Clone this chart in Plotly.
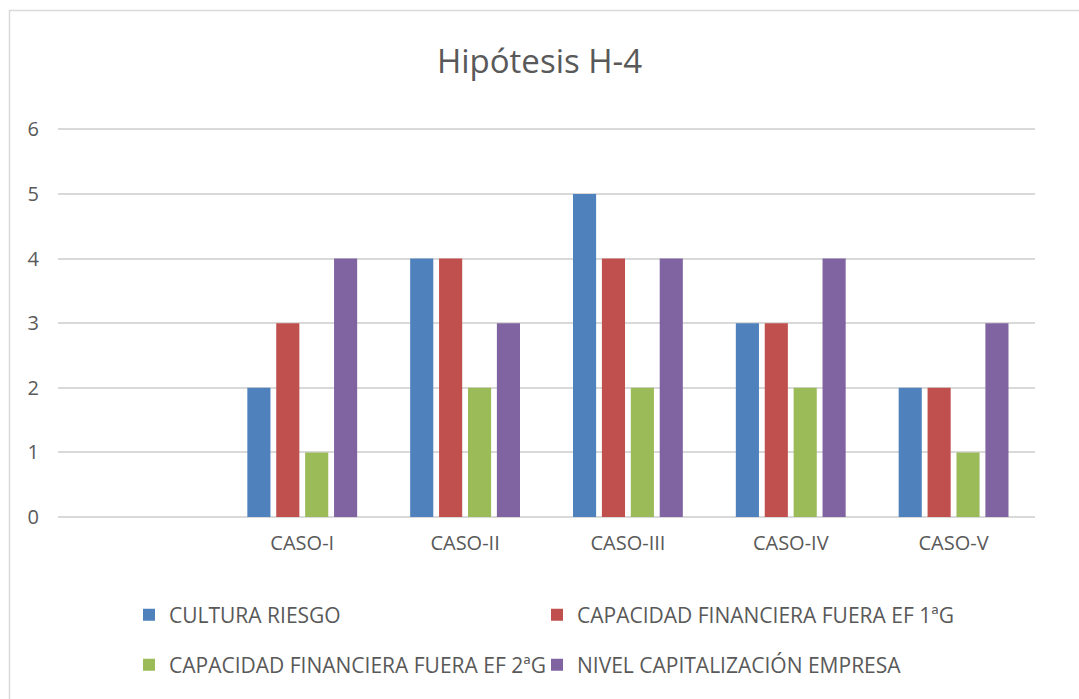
import plotly.graph_objects as go

# Categories (first slot is intentionally left blank)
categories = ["", "CASO-I", "CASO-II", "CASO-III", "CASO-IV", "CASO-V"]

cultura_riesgo = [None, 2, 4, 5, 3, 2]
cap_fin_1g = [None, 3, 4, 4, 3, 2]
cap_fin_2g = [None, 1, 2, 2, 2, 1]
nivel_capitalizacion = [None, 4, 3, 4, 4, 3]

series_names = [
    "CULTURA RIESGO",
    "CAPACIDAD FINANCIERA FUERA EF 1ªG",
    "CAPACIDAD FINANCIERA FUERA EF 2ªG",
    "NIVEL CAPITALIZACIÓN EMPRESA",
]
series_values = [cultura_riesgo, cap_fin_1g, cap_fin_2g, nivel_capitalizacion]
series_colors = ["#4F81BD", "#C0504D", "#9BBB59", "#8064A2"]

# each legend entry gets its own legend box laid out on a 2x2 grid (x px, y px)
legend_ids = ["legend", "legend2", "legend3", "legend4"]
legend_slots = [(129, 615), (537, 615), (129, 665), (537, 665)]

positions = list(range(len(categories)))

fig = go.Figure()
for name, values, color, leg in zip(series_names, series_values, series_colors, legend_ids):
    fig.add_trace(go.Bar(
        x=positions, y=values, name=name, legend=leg,
        marker=dict(color=color, line=dict(width=0)),
    ))

W, H = 1079, 699
ml, mr, mt, mb = 58, 44, 128, 182
pw, ph = W - ml - mr, H - mt - mb
y_top = 6.02

def px_to_paper_x(px):
    return (px - ml) / pw

def px_to_paper_y(py):
    return (H - mb - py) / ph

font_family = "Open Sans, Noto Sans, sans-serif"
text_color = "#595959"

legend_common = dict(
    orientation="h", xanchor="left", yanchor="middle",
    font=dict(size=21, color=text_color, family=font_family),
    itemwidth=30, bgcolor="rgba(0,0,0,0)",
)

legend_layout = {
    leg: dict(legend_common, x=px_to_paper_x(lx), y=px_to_paper_y(ly))
    for leg, (lx, ly) in zip(legend_ids, legend_slots)
}

fig.update_layout(
    width=W, height=H,
    margin=dict(l=ml, r=mr, t=mt, b=mb),
    paper_bgcolor="white", plot_bgcolor="white",
    barmode="group", bargap=0.29, bargroupgap=0.2,
    font=dict(family=font_family, color=text_color, size=20),
    title=dict(text="Hipótesis H-4", x=0.5, xanchor="center",
               y=1 - 61 / H, yanchor="middle",
               font=dict(size=33, color=text_color, family=font_family)),
    xaxis=dict(
        range=[-0.5, len(categories) - 0.5],
        tickmode="array", tickvals=positions, ticktext=categories,
        showgrid=False, zeroline=False, showline=False,
        ticks="", ticklabelstandoff=12,
        tickfont=dict(size=20, color=text_color),
    ),
    yaxis=dict(
        range=[0, y_top], dtick=1, tick0=0,
        showgrid=True, gridcolor="#D9D9D9", gridwidth=1.5,
        zeroline=True, zerolinecolor="#D9D9D9", zerolinewidth=1.5,
        showline=False, ticks="", ticklabelstandoff=18,
        tickfont=dict(size=20, color=text_color),
    ),
    showlegend=True,
    shapes=[dict(
        type="rect", xref="paper", yref="paper",
        x0=px_to_paper_x(9.5), x1=px_to_paper_x(1090),
        y0=px_to_paper_y(710), y1=px_to_paper_y(10.5),
        line=dict(color="#D9D9D9", width=1.5), fillcolor="rgba(0,0,0,0)",
        layer="below",
    )],
    **legend_layout,
)

fig.write_html("out.html")
